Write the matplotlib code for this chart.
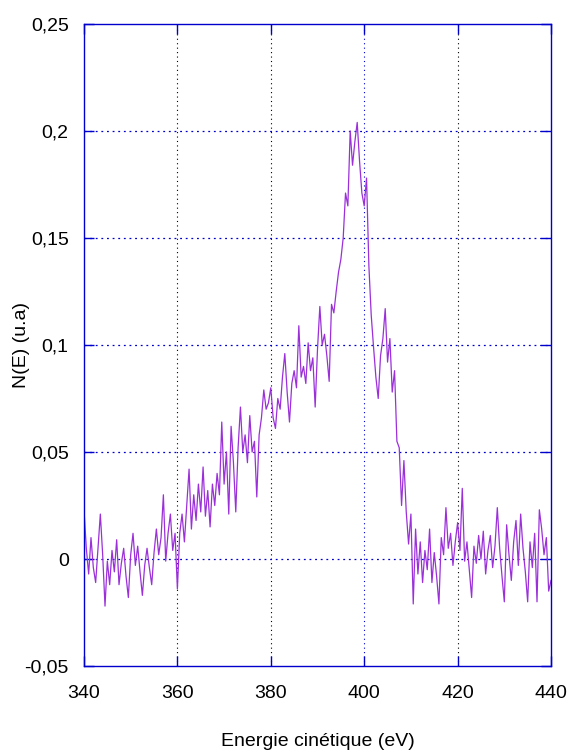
import numpy as np
import matplotlib.pyplot as plt

# Spectre Auger : énergie cinétique (eV) et intensité N(E) (u.a), pas de 0,5 eV
energie_debut = 340.0
energie_pas = 0.5

intensite = [
    # 340 - 349.5
    0.023, 0.005, -0.007, 0.010, -0.004, -0.011, 0.005, 0.021, 0.002, -0.022,
    -0.001, -0.012, 0.004, -0.006, 0.009, -0.012, -0.002, 0.005, -0.008, -0.018,
    # 350 - 359.5
    0.002, 0.012, -0.003, 0.006, -0.006, -0.017, -0.003, 0.005, -0.004, -0.012,
    0.003, 0.014, 0.002, 0.010, 0.030, -0.001, 0.012, 0.021, 0.004, 0.012,
    # 360 - 369.5
    -0.014, 0.012, 0.021, 0.008, 0.025, 0.042, 0.014, 0.030, 0.018, 0.035,
    0.022, 0.043, 0.020, 0.032, 0.015, 0.035, 0.025, 0.040, 0.030, 0.064,
    # 370 - 379.5
    0.035, 0.050, 0.021, 0.062, 0.045, 0.022, 0.052, 0.071, 0.050, 0.058,
    0.045, 0.067, 0.050, 0.055, 0.029, 0.058, 0.066, 0.079, 0.070, 0.073,
    # 380 - 389.5
    0.080, 0.066, 0.061, 0.075, 0.070, 0.085, 0.096, 0.078, 0.064, 0.082,
    0.088, 0.080, 0.109, 0.085, 0.090, 0.082, 0.101, 0.088, 0.094, 0.071,
    # 390 - 399.5
    0.098, 0.118, 0.100, 0.105, 0.095, 0.083, 0.119, 0.115, 0.125, 0.134,
    0.140, 0.150, 0.171, 0.165, 0.200, 0.184, 0.195, 0.204, 0.186, 0.171,
    # 400 - 409.5
    0.165, 0.178, 0.137, 0.114, 0.099, 0.085, 0.075, 0.095, 0.103, 0.117,
    0.092, 0.103, 0.078, 0.088, 0.055, 0.052, 0.025, 0.046, 0.022, 0.007,
    # 410 - 419.5
    0.021, -0.021, 0.014, -0.007, 0.008, -0.011, 0.004, -0.005, 0.014, -0.011,
    0.003, -0.008, -0.021, 0.010, 0.002, 0.024, 0.005, 0.012, -0.003, 0.008,
    # 420 - 429.5
    0.017, 0.004, 0.033, -0.001, 0.008, -0.005, -0.018, 0.006, -0.002, 0.011,
    0.000, 0.013, -0.007, 0.004, 0.011, -0.004, 0.006, 0.024, 0.005, -0.008,
    # 430 - 440
    -0.020, 0.016, 0.002, -0.010, 0.008, 0.018, -0.003, 0.021, 0.005, -0.006,
    -0.020, 0.008, -0.004, 0.012, -0.020, 0.023, 0.014, 0.002, 0.010, -0.015,
    -0.010,
]

graduations_x = [340, 360, 380, 400, 420, 440]
graduations_y = [-0.05, 0, 0.05, 0.1, 0.15, 0.2, 0.25]
etiquettes_y = ["-0,05", "0", "0,05", "0,1", "0,15", "0,2", "0,25"]

energie = energie_debut + energie_pas * np.arange(len(intensite))

police = ['Liberation Sans', 'DejaVu Sans']
taille = 14
bleu = '#0000cc'

fig = plt.figure(figsize=(5.69, 7.54), dpi=100)
ax = fig.add_axes([0.1476, 0.1167, 0.8208, 0.8515])

# grille en pointillés
for gx in graduations_x[1:-1]:
    couleur = bleu if gx == 400 else 'black'
    ax.axvline(gx, color=couleur, linestyle=(0, (1, 3)), linewidth=0.8, zorder=1)
for gy in graduations_y[1:-1]:
    ax.axhline(gy, color=bleu, linestyle=(0, (1.5, 3)), linewidth=0.9, zorder=1)

ax.plot(energie, intensite, color='#9b30d9', linewidth=0.9, zorder=2)

ax.set_xlim(340, 440)
ax.set_ylim(-0.05, 0.25)
ax.set_xticks(graduations_x)
ax.set_xticklabels([str(v) for v in graduations_x], family=police, fontsize=taille)
ax.set_yticks(graduations_y)
ax.set_yticklabels(etiquettes_y, family=police, fontsize=taille)

ax.tick_params(direction='in', length=7, width=1, color=bleu,
               top=True, right=True, labelcolor='black')
ax.tick_params(axis='x', pad=14)
ax.tick_params(axis='y', pad=11)
for cote in ax.spines.values():
    cote.set_color(bleu)
    cote.set_linewidth(1.0)

ax.set_xlabel("Energie cinétique (eV)", family=police, fontsize=taille, va='center')
ax.set_ylabel("N(E) (u.a)", family=police, fontsize=taille, va='center')
ax.xaxis.set_label_coords(0.5, -0.118)
ax.yaxis.set_label_coords(-0.133, 0.5)

fig.savefig("out.png", dpi=100)
